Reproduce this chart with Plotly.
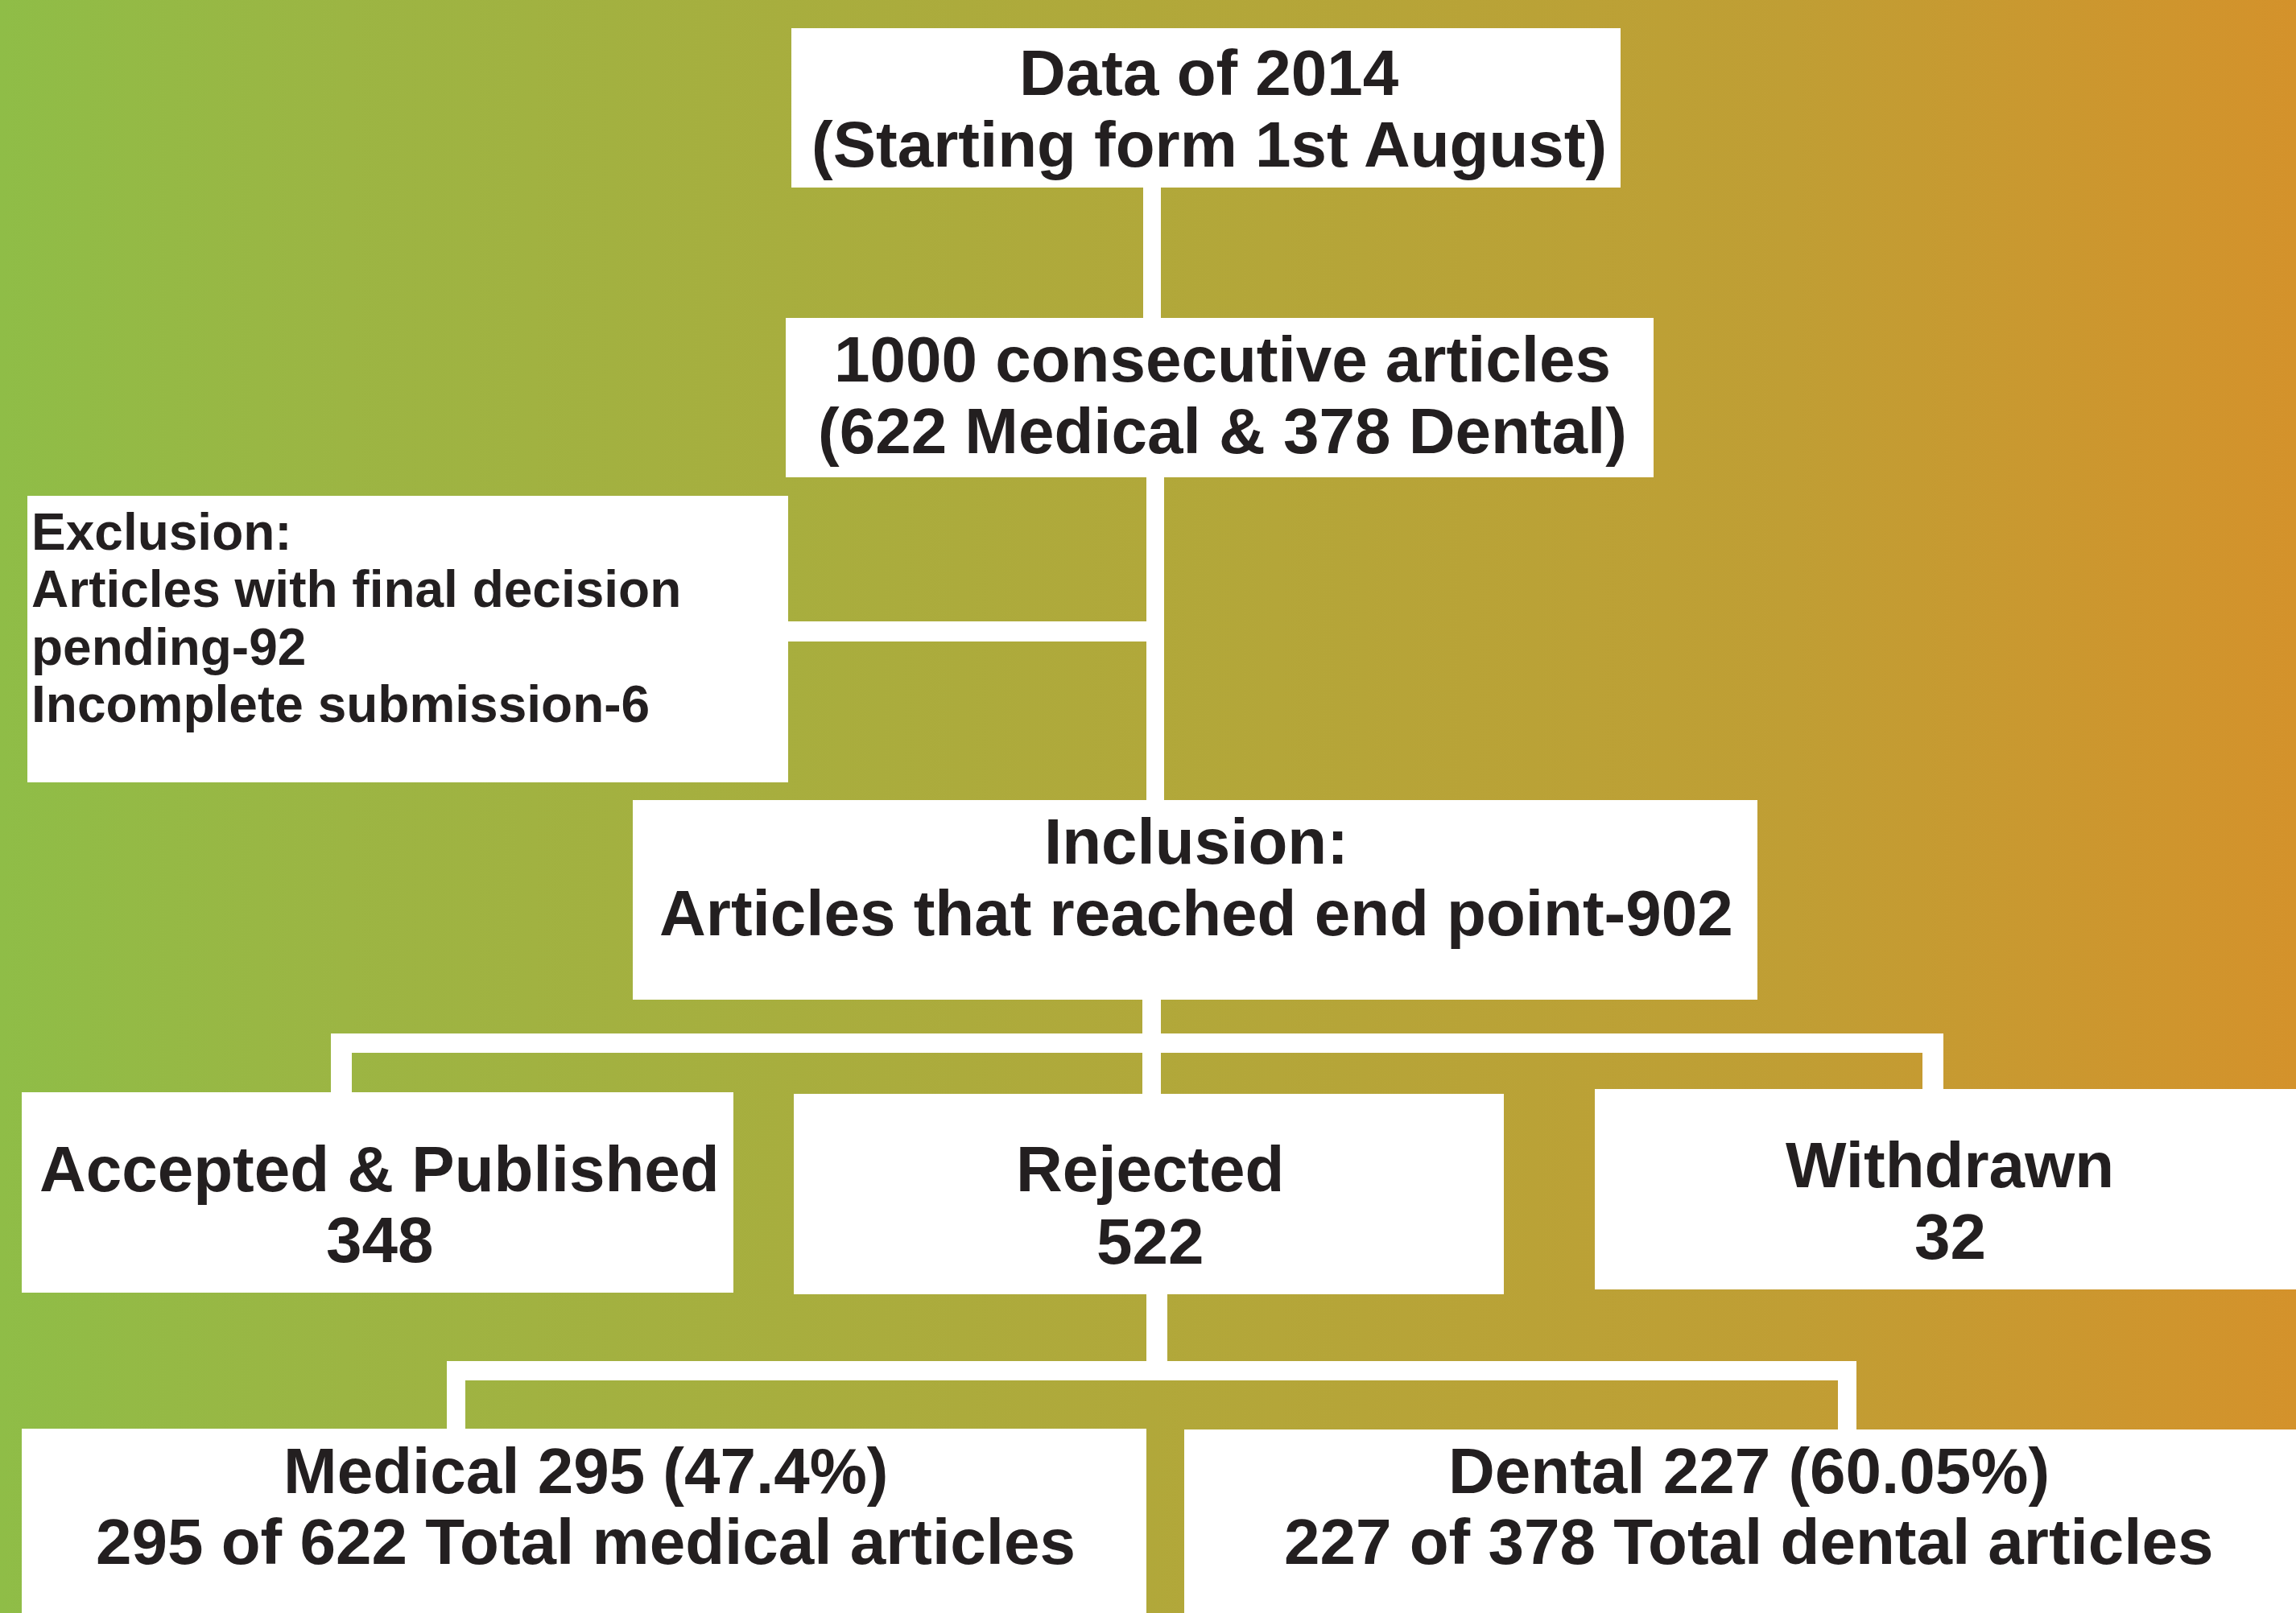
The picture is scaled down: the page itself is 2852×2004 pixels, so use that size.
import plotly.graph_objects as go

# ---------------- data ----------------
study_year = 2014
start_date = "1st August"
total_articles = 1000
medical_total = 622
dental_total = 378
pending_excluded = 92
incomplete_excluded = 6
reached_end_point = 902
outcome_labels = ["Accepted & Published", "Rejected", "Withdrawn"]
outcome_counts = [348, 522, 32]
rejected_medical = 295
rejected_medical_pct = "47.4%"
rejected_dental = 227
rejected_dental_pct = "60.05%"

# ---------------- styling / layout ----------------
W, H = 2852, 2004
TXT = "#231f20"
FONT = "Liberation Sans, Arial, Helvetica, sans-serif"
BIG = 80
SMALL = 64

grad_scale = [[0.0, "#8fbd47"], [0.15, "#9cb543"], [0.5, "#b1a83a"],
              [0.78, "#c09e34"], [1.0, "#d4922b"]]

# box rectangles (x0, x1, y0, y1) in pixel space (y downwards)
boxes = {
    "start": (983, 2013, 35, 233),
    "total": (976, 2054, 395, 593),
    "excl": (34, 979, 616, 972),
    "incl": (786, 2183, 994, 1242),
    "acc": (27, 911, 1357, 1606),
    "rej": (986, 1868, 1359, 1608),
    "wd": (1981, 2870, 1353, 1602),
    "med": (27, 1424, 1775, 2030),
    "den": (1471, 2870, 1776, 2030),
}
connectors = [
    (1420, 1442, 225, 400),
    (1424, 1446, 590, 1000),
    (975, 1446, 772, 797),
    (1419, 1442, 1238, 1362),
    (411, 2414, 1284, 1308),
    (411, 437, 1284, 1360),
    (2388, 2414, 1284, 1356),
    (1424, 1450, 1600, 1691),
    (555, 2306, 1691, 1715),
    (555, 578, 1691, 1778),
    (2283, 2306, 1691, 1779),
]

fig = go.Figure()

# gradient background
fig.add_trace(go.Scatter(
    x=[0, W, W, 0, 0], y=[0, 0, H, H, 0], mode="lines", fill="toself",
    line=dict(width=0), fillgradient=dict(type="horizontal", colorscale=grad_scale),
    hoverinfo="skip", showlegend=False,
))

shapes = []
for (x0, x1, y0, y1) in connectors:
    shapes.append(dict(type="rect", xref="x", yref="y", x0=x0, x1=x1, y0=y0, y1=y1,
                       fillcolor="white", line=dict(width=0), layer="above"))
for (x0, x1, y0, y1) in boxes.values():
    shapes.append(dict(type="rect", xref="x", yref="y", x0=x0, x1=x1, y0=y0, y1=y1,
                       fillcolor="white", line=dict(width=0), layer="above"))

annotations = []


def add_line(text, x, baseline, size=BIG, align="center"):
    ymid = baseline - 0.3465 * size
    annotations.append(dict(
        text=text, x=x, y=ymid, xref="x", yref="y", showarrow=False,
        xanchor="center" if align == "center" else "left", yanchor="middle",
        font=dict(family=FONT, size=size, color=TXT, weight="bold"),
        borderpad=0, borderwidth=0,
    ))


add_line(f"Data of {study_year}", 1502, 118)
add_line(f"(Starting form {start_date})", 1502, 207)
add_line(f"{total_articles} consecutive articles", 1518, 474)
add_line(f"({medical_total} Medical &amp; {dental_total} Dental)", 1518, 563)

add_line("Exclusion:", 39, 683, SMALL, "left")
add_line("Articles with final decision", 39, 754, SMALL, "left")
add_line(f"pending-{pending_excluded}", 39, 826, SMALL, "left")
add_line(f"Incomplete submission-{incomplete_excluded}", 39, 897, SMALL, "left")

add_line("Inclusion:", 1486, 1073)
add_line(f"Articles that reached end point-{reached_end_point}", 1486, 1162)

outcome_pos = [(471, 1480, 1568), (1428, 1480, 1570), (2422, 1475, 1564)]
for lab, cnt, (cx, b1, b2) in zip(outcome_labels, outcome_counts, outcome_pos):
    add_line(lab.replace("&", "&amp;"), cx, b1)
    add_line(str(cnt), cx, b2)

add_line(f"Medical {rejected_medical} ({rejected_medical_pct})", 727, 1855)
add_line(f"{rejected_medical} of {medical_total} Total medical articles", 727, 1943)
add_line(f"Dental {rejected_dental} ({rejected_dental_pct})", 2172, 1855)
add_line(f"{rejected_dental} of {dental_total} Total dental articles", 2172, 1943)

fig.update_layout(
    width=W, height=H, margin=dict(l=0, r=0, t=0, b=0),
    paper_bgcolor="#b1a83a", plot_bgcolor="#b1a83a",
    xaxis=dict(range=[0, W], visible=False, fixedrange=True),
    yaxis=dict(range=[H, 0], visible=False, fixedrange=True),
    shapes=shapes, annotations=annotations, showlegend=False,
)

fig.write_html("out.html", config={"displayModeBar": False},
               post_script="document.body.style.margin='0';document.body.style.overflow='hidden';")
